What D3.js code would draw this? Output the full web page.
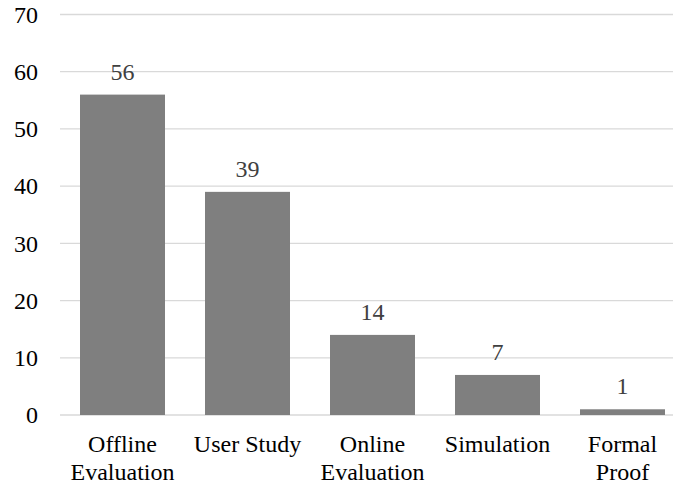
<!DOCTYPE html>
<html>
<head>
<meta charset="utf-8">
<script src="https://cdn.jsdelivr.net/npm/d3@7/dist/d3.min.js"></script>
</head>
<body style="margin:0">
<script>
// Evaluation methods and how many studies used each
const categories = [["Offline", "Evaluation"], ["User Study"], ["Online", "Evaluation"], ["Simulation"], ["Formal", "Proof"]];
const values = [56, 39, 14, 7, 1];
const yTicks = [0, 10, 20, 30, 40, 50, 60, 70];

const width = 673, height = 486;
const textStyle = "font-family: 'Times New Roman', 'Liberation Serif', Tinos, serif; font-size: 24px;";

const svg = d3.select("body").append("svg")
  .attr("width", width)
  .attr("height", height);

const x = d3.scaleBand()
  .domain(d3.range(categories.length))
  .range([60, 685])
  .paddingInner(0.32)
  .paddingOuter(0.16);

const y = d3.scaleLinear()
  .domain([0, 70])
  .range([415, 14.5]);

// Horizontal gridlines
svg.selectAll("line.grid")
  .data(yTicks)
  .join("line")
  .attr("class", "grid")
  .attr("x1", 60)
  .attr("x2", 685)
  .attr("y1", d => y(d))
  .attr("y2", d => y(d))
  .attr("stroke", "#d9d9d9")
  .attr("stroke-width", 1.3);

// Bars
svg.selectAll("rect.bar")
  .data(values)
  .join("rect")
  .attr("class", "bar")
  .attr("x", (d, i) => x(i))
  .attr("width", x.bandwidth())
  .attr("y", d => y(d))
  .attr("height", d => y(0) - y(d))
  .attr("fill", "#7f7f7f");

// Y axis tick labels
svg.selectAll("text.ytick")
  .data(yTicks)
  .join("text")
  .attr("class", "ytick")
  .attr("style", textStyle)
  .attr("x", 38)
  .attr("y", d => y(d))
  .attr("dy", "0.34em")
  .attr("text-anchor", "end")
  .attr("fill", "#000")
  .text(d => d);

// Value labels above bars
svg.selectAll("text.value")
  .data(values)
  .join("text")
  .attr("class", "value")
  .attr("style", textStyle)
  .attr("x", (d, i) => x(i) + x.bandwidth() / 2)
  .attr("y", d => y(d) - 15)
  .attr("text-anchor", "middle")
  .attr("fill", "#404040")
  .text(d => d);

// Category labels, one text per line
const catLines = categories.flatMap((lines, i) => lines.map((t, j) => ({ t, i, j })));
svg.selectAll("text.cat")
  .data(catLines)
  .join("text")
  .attr("class", "cat")
  .attr("style", textStyle)
  .attr("x", d => x(d.i) + x.bandwidth() / 2)
  .attr("y", d => 452 + d.j * 28)
  .attr("text-anchor", "middle")
  .attr("fill", "#000")
  .text(d => d.t);
</script>
</body>
</html>
